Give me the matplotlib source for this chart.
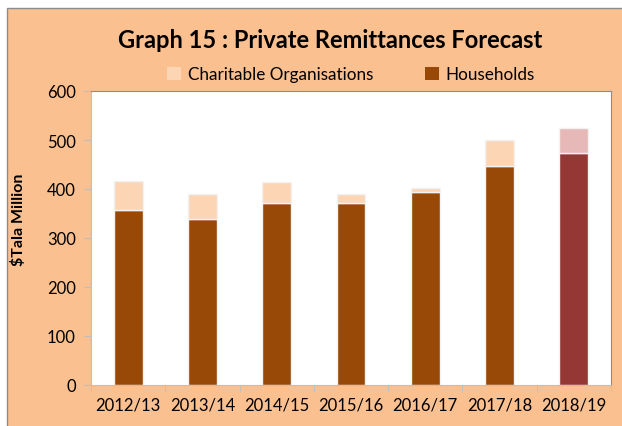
import matplotlib.pyplot as plt
import matplotlib.patches as mpatches
import numpy as np

plt.rcParams['font.family'] = ['Lato', 'DejaVu Sans']

###########################################################################
# data
years = ['2012/13', '2013/14', '2014/15', '2015/16', '2016/17', '2017/18', '2018/19']
households = [358, 339, 372, 372, 394, 447, 473]
charitable = [59, 51, 43, 17, 8, 53, 52]

# last year is the forecast, drawn in other colours
houseCol = ['#984807'] * 6 + ['#953735']
charCol = ['#FCD5B5'] * 6 + ['#E6B9B8']

###########################################################################
fig = plt.figure(figsize=(6.22, 4.27), dpi=100)
fig.patch.set_facecolor('white')

# orange frame behind everything
frame = mpatches.Rectangle((7 / 622, -0.01), 1.0, 1.01 - 9 / 427, transform=fig.transFigure,
                           facecolor='#FAC090', edgecolor='#8c8c8c', linewidth=1.0, zorder=-5)
fig.patches.append(frame)

ax = fig.add_axes([91 / 622, 1 - 386 / 427, (611 - 91) / 622, (386 - 92) / 427])
ax.set_facecolor('white')

x = np.arange(len(years))
ax.bar(x, households, width=0.39, color=houseCol, edgecolor='#f2f2f2', linewidth=1.0, zorder=2)
ax.bar(x, charitable, width=0.39, bottom=households, color=charCol, edgecolor='#f2f2f2',
       linewidth=1.0, zorder=2)

ax.set_xlim(-0.5, len(years) - 0.5)
ax.set_ylim(0, 600)
ax.set_yticks(range(0, 601, 100))
ax.set_xticks(x)
ax.set_xticklabels(years, fontsize=12)
ax.tick_params(axis='x', length=0, pad=8)
ax.set_xticks(np.arange(-0.5, len(years), 1.0), minor=True)
ax.tick_params(axis='x', which='minor', length=5, color='#bfbfbf', direction='out')
ax.tick_params(axis='y', labelsize=12, length=5, color='#bfbfbf', direction='out', pad=6)

for s in ['top', 'right']:
    ax.spines[s].set_color('#8c8c8c')
for s in ['left', 'bottom']:
    ax.spines[s].set_color('#bfbfbf')

ax.set_ylabel('$Tala Million', fontsize=11.5, fontweight='bold')
ax.yaxis.set_label_coords(-0.125, 0.565)

fig.text(330 / 622, 1 - 41 / 427, 'Graph 15 : Private Remittances Forecast', fontsize=17,
         fontweight='bold', ha='center', va='center')

handles = [mpatches.Patch(facecolor='#FCD5B5', label='Charitable Organisations'),
           mpatches.Patch(facecolor='#984807', label='Households')]
fig.legend(handles=handles, loc='center', bbox_to_anchor=(351 / 622, 1 - 75 / 427), ncol=2,
           frameon=False, fontsize=12.3, handlelength=0.8, handleheight=0.8,
           handletextpad=0.4, columnspacing=3.05)

fig.savefig('out.png', dpi=100, facecolor=fig.get_facecolor())
